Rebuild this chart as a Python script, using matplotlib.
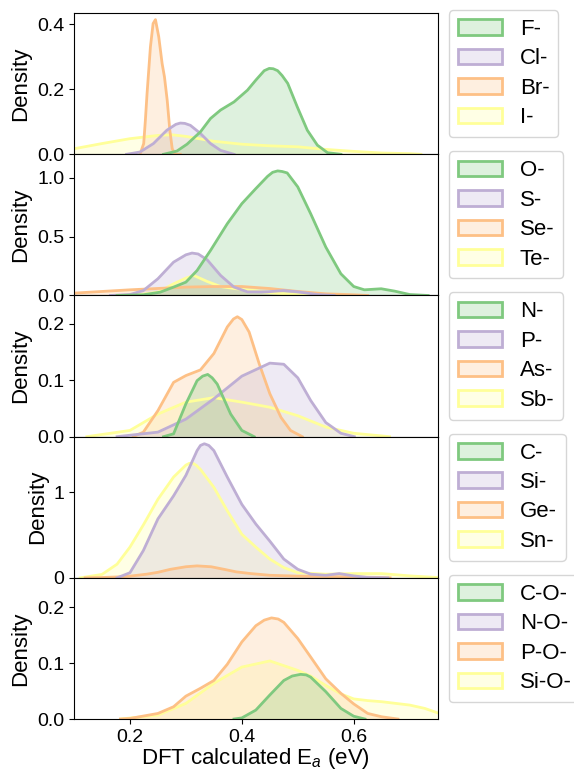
import matplotlib
matplotlib.use("Agg")
import matplotlib.pyplot as plt
from matplotlib.patches import Patch

plt.rcParams['font.family'] = ['Liberation Sans', 'DejaVu Sans']
plt.rcParams['mathtext.fontset'] = 'custom'
plt.rcParams['mathtext.rm'] = 'Liberation Sans'
plt.rcParams['mathtext.it'] = 'Liberation Sans:italic'

# Accent palette (seaborn palette="Accent")
colors = ['#7fc97f', '#beaed4', '#fdc086', '#ffff99']

# ---- halides ----
f_x = [0.260, 0.284, 0.302, 0.326, 0.344, 0.362, 0.386, 0.410, 0.425, 0.440, 0.449, 0.456, 0.464, 0.472, 0.482, 0.499, 0.517, 0.535, 0.553, 0.577]
f_y = [0.0, 0.010, 0.031, 0.069, 0.110, 0.136, 0.161, 0.197, 0.228, 0.257, 0.264, 0.263, 0.257, 0.242, 0.218, 0.146, 0.074, 0.028, 0.005, 0.0]
cl_x = [0.194, 0.218, 0.242, 0.266, 0.282, 0.290, 0.298, 0.308, 0.326, 0.344, 0.362, 0.386]
cl_y = [0.0, 0.007, 0.033, 0.074, 0.092, 0.096, 0.095, 0.089, 0.064, 0.033, 0.012, 0.0]
br_x = [0.218, 0.2246, 0.2276, 0.2306, 0.2366, 0.2414, 0.2456, 0.2515, 0.2575, 0.2617, 0.2666, 0.2713, 0.2756, 0.281, 0.29]
br_y = [0.0, 0.033, 0.105, 0.187, 0.330, 0.402, 0.414, 0.361, 0.279, 0.238, 0.166, 0.074, 0.017, 0.0, 0.0]
i_x = [0.10, 0.15, 0.20, 0.25, 0.275, 0.30, 0.35, 0.40, 0.45, 0.50, 0.55, 0.60, 0.65, 0.70, 0.72]
i_y = [0.017, 0.033, 0.048, 0.058, 0.060, 0.055, 0.040, 0.031, 0.026, 0.023, 0.015, 0.009, 0.004, 0.002, 0.0]

# ---- chalcogens ----
o_x = [0.177, 0.224, 0.254, 0.278, 0.300, 0.320, 0.344, 0.374, 0.400, 0.425, 0.446, 0.455, 0.464, 0.472, 0.481, 0.500, 0.523, 0.550, 0.577, 0.600, 0.619, 0.649, 0.673, 0.700, 0.733]
o_y = [0.0, 0.006, 0.028, 0.071, 0.113, 0.212, 0.382, 0.609, 0.779, 0.907, 1.011, 1.045, 1.057, 1.052, 1.040, 0.921, 0.694, 0.411, 0.184, 0.076, 0.048, 0.057, 0.037, 0.008, 0.0]
s_x = [0.165, 0.200, 0.224, 0.250, 0.278, 0.300, 0.311, 0.322, 0.338, 0.362, 0.386, 0.410, 0.446, 0.475, 0.500, 0.535, 0.565]
s_y = [0.0, 0.008, 0.042, 0.142, 0.283, 0.345, 0.360, 0.352, 0.303, 0.170, 0.071, 0.031, 0.031, 0.042, 0.031, 0.008, 0.0]
se_x = [0.10, 0.20, 0.30, 0.35, 0.40, 0.45, 0.50, 0.55, 0.60, 0.625]
se_y = [0.020, 0.048, 0.071, 0.076, 0.076, 0.059, 0.034, 0.014, 0.006, 0.0]
te_x = [0.206, 0.250, 0.278, 0.300, 0.314, 0.338, 0.362, 0.386, 0.422, 0.450, 0.500, 0.529]
te_y = [0.0, 0.028, 0.099, 0.147, 0.170, 0.119, 0.076, 0.059, 0.042, 0.023, 0.006, 0.0]

# ---- pnictogens ----
n_x = [0.260, 0.278, 0.300, 0.320, 0.330, 0.339, 0.347, 0.356, 0.380, 0.400, 0.422]
n_y = [0.0, 0.005, 0.058, 0.099, 0.107, 0.110, 0.104, 0.093, 0.040, 0.011, 0.0]
p_x = [0.177, 0.250, 0.300, 0.350, 0.400, 0.450, 0.475, 0.500, 0.523, 0.550, 0.577, 0.601]
p_y = [0.0, 0.008, 0.031, 0.067, 0.107, 0.130, 0.128, 0.104, 0.064, 0.025, 0.006, 0.0]
as_x = [0.206, 0.224, 0.250, 0.278, 0.300, 0.326, 0.350, 0.374, 0.385, 0.392, 0.400, 0.413, 0.431, 0.450, 0.470, 0.487, 0.508]
as_y = [0.0, 0.008, 0.046, 0.096, 0.108, 0.118, 0.147, 0.194, 0.208, 0.212, 0.207, 0.185, 0.129, 0.076, 0.034, 0.011, 0.0]
sb_x = [0.123, 0.20, 0.25, 0.30, 0.35, 0.40, 0.45, 0.50, 0.55, 0.60, 0.664]
sb_y = [0.0, 0.011, 0.040, 0.061, 0.069, 0.061, 0.052, 0.037, 0.017, 0.006, 0.0]

# ---- tetrels ----
c_x = []
c_y = []
si_x = [0.177, 0.200, 0.224, 0.250, 0.278, 0.300, 0.320, 0.326, 0.333, 0.341, 0.350, 0.374, 0.400, 0.425, 0.450, 0.475, 0.500, 0.523, 0.550, 0.574, 0.600, 0.625, 0.661]
si_y = [0.0, 0.06, 0.32, 0.69, 0.96, 1.20, 1.49, 1.55, 1.57, 1.55, 1.49, 1.18, 0.86, 0.63, 0.43, 0.22, 0.10, 0.043, 0.03, 0.05, 0.023, 0.004, 0.0]
ge_x = [0.12, 0.15, 0.183, 0.20, 0.23, 0.25, 0.2725, 0.30, 0.32, 0.345, 0.368, 0.39, 0.416, 0.45, 0.50, 0.55, 0.60, 0.65, 0.665]
ge_y = [0.0, 0.004, 0.012, 0.02, 0.043, 0.065, 0.10, 0.13, 0.14, 0.13, 0.10, 0.07, 0.05, 0.03, 0.02, 0.015, 0.01, 0.004, 0.0]
sn_x = [0.111, 0.150, 0.177, 0.200, 0.224, 0.250, 0.278, 0.300, 0.306, 0.313, 0.319, 0.326, 0.350, 0.374, 0.400, 0.425, 0.450, 0.475, 0.500, 0.550, 0.600, 0.650, 0.700, 0.750]
sn_y = [0.0, 0.04, 0.16, 0.36, 0.62, 0.92, 1.18, 1.32, 1.34, 1.34, 1.315, 1.27, 1.06, 0.785, 0.51, 0.36, 0.22, 0.12, 0.06, 0.043, 0.05, 0.05, 0.023, 0.004]

# ---- oxygen-bridged ----
co_x = [0.386, 0.400, 0.425, 0.450, 0.475, 0.490, 0.505, 0.515, 0.523, 0.550, 0.577, 0.600, 0.620]
co_y = [0.0, 0.002, 0.016, 0.043, 0.069, 0.077, 0.080, 0.079, 0.075, 0.049, 0.019, 0.005, 0.0]
no_x = []
no_y = []
po_x = [0.183, 0.200, 0.250, 0.278, 0.300, 0.326, 0.350, 0.374, 0.400, 0.425, 0.440, 0.453, 0.465, 0.475, 0.500, 0.523, 0.550, 0.577, 0.600, 0.625, 0.650, 0.679]
po_y = [0.0, 0.001, 0.010, 0.022, 0.041, 0.055, 0.069, 0.098, 0.138, 0.167, 0.177, 0.181, 0.179, 0.173, 0.144, 0.111, 0.072, 0.046, 0.027, 0.010, 0.004, 0.0]
sio_x = [0.183, 0.250, 0.300, 0.350, 0.400, 0.450, 0.500, 0.523, 0.550, 0.577, 0.600, 0.625, 0.650, 0.700, 0.727, 0.750]
sio_y = [0.0, 0.007, 0.028, 0.064, 0.093, 0.104, 0.087, 0.077, 0.060, 0.045, 0.036, 0.033, 0.031, 0.025, 0.019, 0.011]

panels = [
    (['F-', 'Cl-', 'Br-', 'I-'], [(f_x, f_y), (cl_x, cl_y), (br_x, br_y), (i_x, i_y)]),
    (['O-', 'S-', 'Se-', 'Te-'], [(o_x, o_y), (s_x, s_y), (se_x, se_y), (te_x, te_y)]),
    (['N-', 'P-', 'As-', 'Sb-'], [(n_x, n_y), (p_x, p_y), (as_x, as_y), (sb_x, sb_y)]),
    (['C-', 'Si-', 'Ge-', 'Sn-'], [(c_x, c_y), (si_x, si_y), (ge_x, ge_y), (sn_x, sn_y)]),
    (['C-O-', 'N-O-', 'P-O-', 'Si-O-'], [(co_x, co_y), (no_x, no_y), (po_x, po_y), (sio_x, sio_y)]),
]
ylims = [0.434, 1.198, 0.2496, 1.653, 0.2527]
yticks = [[0.0, 0.2, 0.4], [0.0, 0.5, 1.0], [0.0, 0.1, 0.2], [0, 1], [0.0, 0.1, 0.2]]
yticklabels = [['0.0', '0.2', '0.4'], ['0.0', '0.5', '1.0'], ['0.0', '0.1', '0.2'], ['0', '1'], ['0.0', '0.1', '0.2']]

fig, axes = plt.subplots(5, 1, sharex=True, figsize=(5.74, 7.71), dpi=100)
fig.subplots_adjust(left=0.1289, right=0.7625, top=0.983, bottom=0.0674, hspace=0)

for k, ax in enumerate(axes):
    labels, series = panels[k]
    # first hue drawn last (on top), like seaborn
    for j in reversed(range(4)):
        xs, ys = series[j]
        if len(xs) == 0:
            continue
        ax.fill_between(xs, ys, 0, facecolor=colors[j], alpha=0.25, linewidth=0)
        ax.plot(xs, ys, color=colors[j], lw=2, solid_joinstyle='round')
    ax.set_xlim(0.1, 0.75)
    ax.set_ylim(0, ylims[k])
    ax.set_yticks(yticks[k])
    ax.set_yticklabels(yticklabels[k])
    ax.tick_params(labelsize=14)
    ax.set_ylabel('Density', fontsize=16)
    handles = [Patch(facecolor=matplotlib.colors.to_rgba(c, 0.25), edgecolor=c, linewidth=2) for c in colors]
    ax.legend(handles, labels, loc='upper left', bbox_to_anchor=(1, 1.1), fontsize=16,
              labelspacing=0.38)

axes[-1].set_xticks([0.2, 0.4, 0.6])
axes[-1].set_xlabel('DFT calculated E$_a$ (eV)', fontsize=16, labelpad=0)

fig.savefig('out.png')
